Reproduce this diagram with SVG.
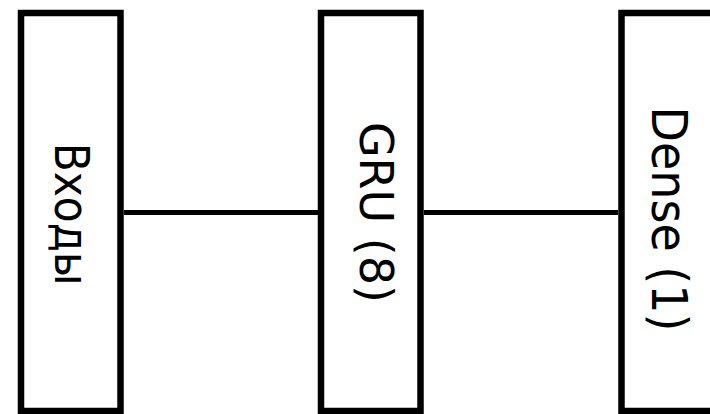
<svg xmlns="http://www.w3.org/2000/svg" width="710" height="414" viewBox="0 0 710 414">
<style>
.box{fill:#fff;stroke:#000;stroke-width:6.5}
.lbl{font-family:"DejaVu Sans",sans-serif;font-size:46px;fill:#000;text-anchor:middle}
.con{stroke:#000;stroke-width:5;fill:none}
</style>
<rect width="710" height="414" fill="#fff"/>
<g id="connectors">
<line class="con" x1="124" y1="212.5" x2="318" y2="212.5"/>
<line class="con" x1="424" y1="212.5" x2="618" y2="212.5"/>
</g>
<g id="node-inputs">
<rect class="box" x="21" y="13" width="99.5" height="398"/>
<text class="lbl" transform="translate(55,214) rotate(90) scale(0.92,1.03)">Входы</text>
</g>
<g id="node-gru">
<rect class="box" x="321" y="13" width="99.5" height="398"/>
<text class="lbl" transform="translate(359.5,212.5) rotate(90)">GRU (8)</text>
</g>
<g id="node-dense">
<rect class="box" x="621.5" y="13" width="99.5" height="398"/>
<text class="lbl" transform="translate(652,219) rotate(90) scale(1,1.08)">Dense (1)</text>
</g>
</svg>
